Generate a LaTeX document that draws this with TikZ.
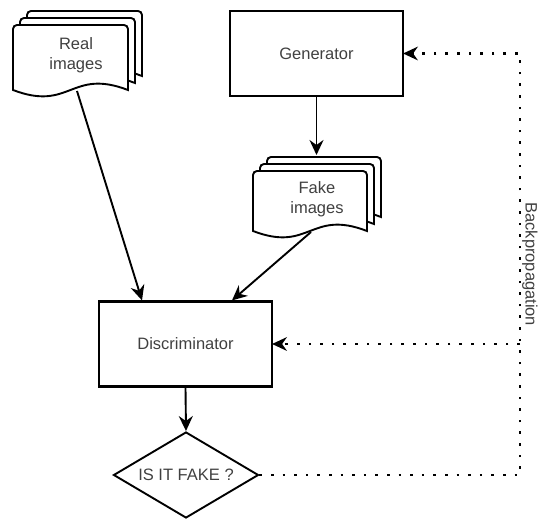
\documentclass[tikz,border=0pt]{standalone}
\usepackage{fontspec}
\setmainfont{Liberation Sans}
\usetikzlibrary{arrows.meta,shapes.geometric}

% wavy document outline: x, y (top left), width, height
\newcommand{\docpage}[4]{%
  \filldraw[fill=white, line width=1.9pt]
    (#1,#2+#4) [rounded corners=4pt] -- (#1,#2) -- (#1+#3,#2) [sharp corners] -- (#1+#3,#2+#4)
    .. controls (#1+0.5*#3,#2+#4-22) and (#1+0.5*#3,#2+#4+22) .. (#1,#2+#4) -- cycle;}

\begin{document}
\begin{tikzpicture}[x=1pt, y=-1pt]
        % Define styles
        \tikzset{
            process/.style={rectangle, draw, line width=2.2pt, minimum width=173pt, minimum height=85pt},
            decision/.style={diamond, draw, line width=1.9pt, aspect=1.69, minimum width=145pt, minimum height=86pt, inner sep=0pt},
            doctext/.style={align=center},
            arrow/.style={-{Stealth[length=15pt, width=14pt, inset=5pt]}, line width=1.9pt},
            dots/.style={line width=2.6pt, dash pattern=on 2.6pt off 9pt, -{Stealth[length=15pt, width=14pt, inset=5pt, line width=0pt, sep=-1pt]}},
            every node/.style={font=\fontsize{16.5}{20}\selectfont, text=black!75}
        }
        \useasboundingbox (0,0) rectangle (539,521);

        % Document stacks
        \foreach \d in {14,7,0} {
            \docpage{13+\d}{25-\d}{115}{65}
            \docpage{253+\d}{171-\d}{114}{60}
        }

        % Nodes
        \node[doctext] (real) at (76,55) {Real\\images};
        \node[doctext] (fake) at (317,199) {Fake\\images};
        \node[process] (gen) at (316.5,53.5) {Generator};
        \node[process] (disc) at (185.5,344) {Discriminator};
        \node[decision] (check) at (186,475) {IS IT FAKE ?};
        \coordinate (bp) at (520,0);
        \coordinate (realout) at (77,91);
        \coordinate (fakeout) at (311,232);
        \coordinate (fakein) at (316.5,155);

        % Arrows
        \draw[arrow] (realout) -- (disc.north -| 142,0);
        \draw[arrow] (fakeout) -- (disc.north -| 232,0);
        \draw[arrow] (gen.south) -- (fakein);
        \draw[arrow] (disc.south) -- (check.north);

        % Backpropagation
        \draw[dots] (check.east) -- (check.east -| bp) -- (gen.east -| bp)
            node[midway, rotate=-90, anchor=south, inner sep=1pt] (bplabel) {Backpropagation}
            -- (gen.east);
        \draw[dots] (disc.east -| bp) -- (disc.east);
    \end{tikzpicture}
\end{document}
